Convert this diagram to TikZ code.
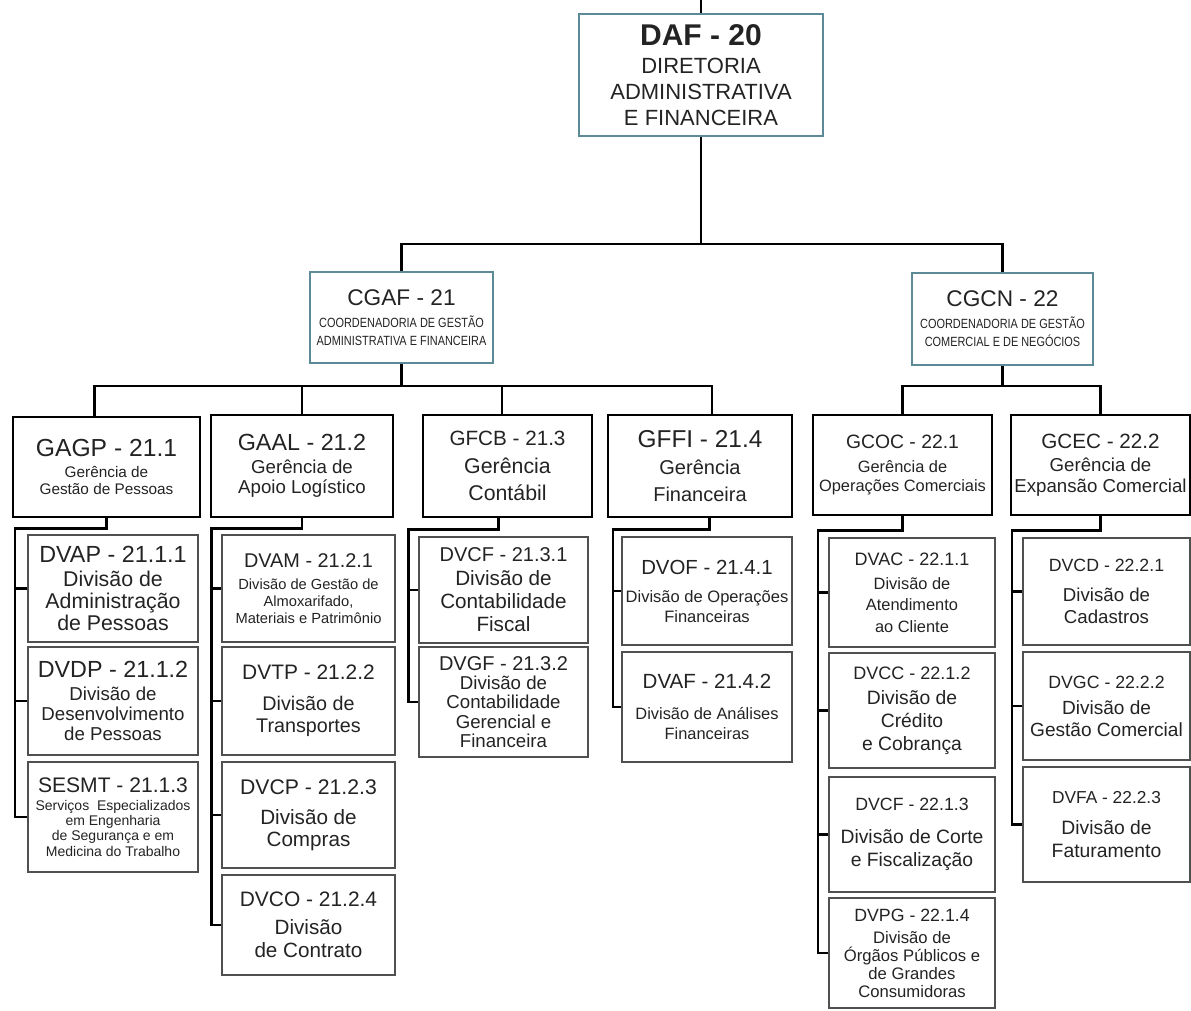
\documentclass[tikz,border=0pt]{standalone}
\usepackage{fontspec}
\setmainfont{Liberation Sans}
\newfontfamily\narrowfont[FakeStretch=0.82]{Liberation Sans}
\definecolor{ink}{RGB}{35,35,35}
\definecolor{tealedge}{RGB}{92,138,150}
\definecolor{divedge}{RGB}{80,80,80}

\begin{document}
\begin{tikzpicture}[x=0.75pt, y=-0.75pt,
  every node/.style={text=ink, align=center},
  sz/.style 2 args={minimum width=#1*0.75pt, minimum height=#2*0.75pt},
  dir/.style={draw=tealedge, line width=2pt, inner sep=0pt},
  ger/.style={draw=black, line width=1.8pt, inner sep=0pt},
  dv/.style={draw=divedge, line width=1.4pt, inner sep=0pt},
  ln/.style={line width=1.6pt},
  rail/.style={line width=2pt}]
\useasboundingbox (0,0) rectangle (1191,1010);

% diretoria e coordenadorias
\node[dir, sz={244}{122}, font=\fontsize{16.5}{19.5}\selectfont] (daf) at (701,75)
  {{\bfseries\fontsize{22.5}{26}\selectfont DAF - 20}\\[1pt] DIRETORIA\\ADMINISTRATIVA\\E FINANCEIRA};
\node[dir, sz={183}{91}, font=\narrowfont\fontsize{10}{13.5}\selectfont] (cgaf) at (401.5,317.5)
  {{\rmfamily\fontsize{17}{20}\selectfont CGAF - 21}\\[3pt] COORDENADORIA DE GESTÃO\\ADMINISTRATIVA E FINANCEIRA};
\node[dir, sz={181}{92}, font=\narrowfont\fontsize{10}{13.5}\selectfont] (cgcn) at (1002.5,319)
  {{\rmfamily\fontsize{17}{20}\selectfont CGCN - 22}\\[3pt] COORDENADORIA DE GESTÃO\\COMERCIAL E DE NEGÓCIOS};

% gerencias
\node[ger, sz={187}{100}, font=\fontsize{11.5}{13}\selectfont] (gagp) at (106.5,467)
  {{\fontsize{18.5}{21}\selectfont GAGP - 21.1}\\[3pt] Gerência de\\Gestão de Pessoas};
\node[ger, sz={182}{102}, font=\fontsize{14}{15}\selectfont] (gaal) at (302,466)
  {{\fontsize{17.5}{20}\selectfont GAAL - 21.2}\\[2pt] Gerência de\\Apoio Logístico};
\node[ger, sz={169}{102}, font=\fontsize{16}{20}\selectfont] (gfcb) at (507.5,466)
  {{\fontsize{15.5}{18}\selectfont GFCB - 21.3}\\[1pt] Gerência\\Contábil};
\node[ger, sz={184}{102}, font=\fontsize{15}{20}\selectfont] (gffi) at (700,466)
  {{\fontsize{18.3}{21}\selectfont GFFI - 21.4}\\[0pt] Gerência\\Financeira};
\node[ger, sz={179}{100}, font=\fontsize{12.3}{14.5}\selectfont] (gcoc) at (902.5,465)
  {{\fontsize{14.5}{17}\selectfont GCOC - 22.1}\\[3pt] Gerência de\\Operações Comerciais};
\node[ger, sz={179}{100}, font=\fontsize{14}{15.5}\selectfont] (gcec) at (1100.5,465)
  {{\fontsize{15.5}{18}\selectfont GCEC - 22.2}\\[2pt] Gerência de\\Expansão Comercial};

% divisoes 21.1
\node[dv, sz={170}{107}, font=\fontsize{16}{16.5}\selectfont] (dvap) at (113,588.5)
  {{\fontsize{17.5}{20}\selectfont DVAP - 21.1.1}\\[1pt] Divisão de\\Administração\\de Pessoas};
\node[dv, sz={170}{108}, font=\fontsize{14}{15}\selectfont] (dvdp) at (113,701)
  {{\fontsize{17.5}{20}\selectfont DVDP - 21.1.2}\\[2pt] Divisão de\\Desenvolvimento\\de Pessoas};
\node[dv, sz={170}{110}, font=\fontsize{10.5}{11.5}\selectfont] (sesmt) at (113,817)
  {{\fontsize{15.8}{18}\selectfont SESMT - 21.1.3}\\[2pt] Serviços \ Especializados\\em Engenharia\\de Segurança e em\\Medicina do Trabalho};
% divisoes 21.2
\node[dv, sz={173}{107}, font=\fontsize{11}{12.5}\selectfont] (dvam) at (308.5,588.5)
  {{\fontsize{14.9}{18}\selectfont DVAM - 21.2.1}\\[4pt] Divisão de Gestão de\\Almoxarifado,\\Materiais e Patrimônio};
\node[dv, sz={173}{108}, font=\fontsize{14.8}{17}\selectfont] (dvtp) at (308.5,701)
  {{\fontsize{15.7}{18}\selectfont DVTP - 21.2.2}\\[6pt] Divisão de\\Transportes};
\node[dv, sz={173}{106}, font=\fontsize{15.5}{16.5}\selectfont] (dvcp) at (308.5,815)
  {{\fontsize{15.9}{18}\selectfont DVCP - 21.2.3}\\[6pt] Divisão de\\Compras};
\node[dv, sz={173}{100}, font=\fontsize{15.5}{17}\selectfont] (dvco) at (308.5,925)
  {{\fontsize{15.7}{18}\selectfont DVCO - 21.2.4}\\[4pt] Divisão\\de Contrato};
% divisoes 21.3
\node[dv, sz={169}{106}, font=\fontsize{15.5}{17.5}\selectfont] (dvcf) at (503.5,590)
  {{\fontsize{15}{18}\selectfont DVCF - 21.3.1}\\[0pt] Divisão de\\Contabilidade\\Fiscal};
\node[dv, sz={169}{110}, font=\fontsize{14}{14.5}\selectfont] (dvgf) at (503.5,702)
  {{\fontsize{15}{18}\selectfont DVGF - 21.3.2}\\[0pt] Divisão de\\Contabilidade\\Gerencial e\\Financeira};
% divisoes 21.4
\node[dv, sz={170}{108}, font=\fontsize{12.4}{15}\selectfont] (dvof) at (707,591)
  {{\fontsize{15.3}{18}\selectfont DVOF - 21.4.1}\\[6pt] Divisão de Operações\\Financeiras};
\node[dv, sz={170}{110}, font=\fontsize{12.3}{15}\selectfont] (dvaf) at (707,707)
  {{\fontsize{15.4}{18}\selectfont DVAF - 21.4.2}\\[8pt] Divisão de Análises\\Financeiras};
% divisoes 22.1
\node[dv, sz={166}{109}, font=\fontsize{12.3}{16}\selectfont] (dvac) at (912,592.5)
  {{\fontsize{13.5}{16}\selectfont DVAC - 22.1.1}\\[2pt] Divisão de\\Atendimento\\ao Cliente};
\node[dv, sz={166}{115}, font=\fontsize{14.5}{17}\selectfont] (dvcc) at (912,710.5)
  {{\fontsize{13.5}{16}\selectfont DVCC - 22.1.2}\\[2pt] Divisão de\\Crédito\\e Cobrança};
\node[dv, sz={166}{115}, font=\fontsize{14.5}{17}\selectfont] (dvcfb) at (912,834.5)
  {{\fontsize{13.3}{16}\selectfont DVCF - 22.1.3}\\[8pt] Divisão de Corte\\e Fiscalização};
\node[dv, sz={166}{110}, font=\fontsize{12.5}{13.5}\selectfont] (dvpg) at (912,953)
  {{\fontsize{13.3}{16}\selectfont DVPG - 22.1.4}\\[3pt] Divisão de\\Órgãos Públicos e\\de Grandes\\Consumidoras};
% divisoes 22.2
\node[dv, sz={167}{107}, font=\fontsize{14}{16.5}\selectfont] (dvcd) at (1106.5,591.5)
  {{\fontsize{13.3}{16}\selectfont DVCD - 22.2.1}\\[6pt] Divisão de\\Cadastros};
\node[dv, sz={167}{108}, font=\fontsize{14.3}{16.5}\selectfont] (dvgc) at (1106.5,706)
  {{\fontsize{13.3}{16}\selectfont DVGC - 22.2.2}\\[3pt] Divisão de\\Gestão Comercial};
\node[dv, sz={167}{115}, font=\fontsize{14.5}{17}\selectfont] (dvfa) at (1106.5,824.5)
  {{\fontsize{13}{16}\selectfont DVFA - 22.2.3}\\[6pt] Divisão de\\Faturamento};

% ligacoes superiores
\draw[ln] (daf.north) -- ++(0,-14);
\draw[ln] (daf.south) -- ++(0,107) coordinate (tp);
\draw[ln] (cgaf.north) |- (tp) -| (cgcn.north);
\draw[ln] (cgaf.south) -- ++(0,22) coordinate (ra);
\draw[ln] ([xshift=-9pt]gagp.north) |- (ra) -| ([xshift=9pt]gffi.north);
\draw[ln] (gaal.north) -- (gaal.north |- ra);
\draw[ln] ([xshift=-4pt]gfcb.north) -- ([xshift=-4pt]gfcb.north |- ra);
\draw[ln] (cgcn.south) -- ++(0,20) coordinate (rb);
\draw[ln] (gcoc.north) |- (rb) -| (gcec.north);

% trilhos das divisoes
\draw[rail] (gagp.south) -- ++(0,10) -| ([xshift=-9pt]sesmt.west) -- (sesmt.west);
\draw[rail] (gaal.south) -- ++(0,10) -| ([xshift=-7pt]dvco.west) -- (dvco.west);
\draw[rail] ([xshift=-7pt]gfcb.south) -- ++(0,11) -| ([xshift=-7pt]dvgf.west) -- (dvgf.west);
\draw[rail] ([xshift=7pt]gffi.south) -- ++(0,11) -| ([xshift=-6pt]dvaf.west) -- (dvaf.west);
\draw[rail] (gcoc.south) -- ++(0,14) -| ([xshift=-7.5pt]dvpg.west) -- (dvpg.west);
\draw[rail] (gcec.south) -- ++(0,14) -| ([xshift=-7.5pt]dvfa.west) -- (dvfa.west);
\draw[rail] ([xshift=-9pt]dvap.west) -- (dvap.west);
\draw[rail] ([xshift=-9pt]dvdp.west) -- (dvdp.west);
\foreach \n in {dvam,dvtp,dvcp} \draw[rail] ([xshift=-7pt]\n.west) -- (\n.west);
\draw[rail] ([xshift=-7pt]dvcf.west) -- (dvcf.west);
\draw[rail] ([xshift=-6pt]dvof.west) -- (dvof.west);
\foreach \n in {dvac,dvcc,dvcfb} \draw[rail] ([xshift=-7.5pt]\n.west) -- (\n.west);
\foreach \n in {dvcd,dvgc} \draw[rail] ([xshift=-7.5pt]\n.west) -- (\n.west);
\end{tikzpicture}
\end{document}
